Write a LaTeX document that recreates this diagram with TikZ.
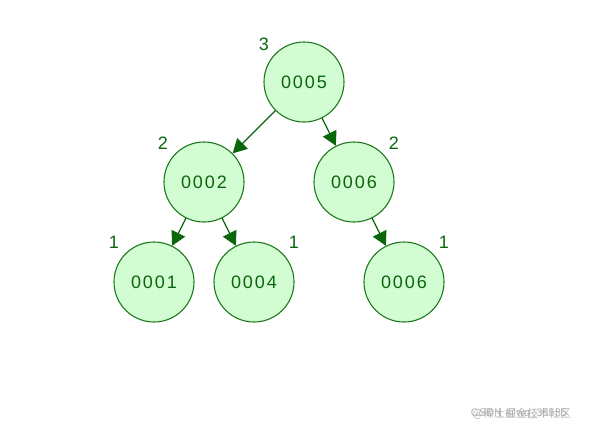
\documentclass[tikz,border=0pt]{standalone}
\usepackage{fontspec}
\setmainfont{Liberation Sans}
\newfontfamily\nodefont[LetterSpace=11]{Liberation Sans}
\newfontfamily\cjk{Noto Sans CJK SC}
\usetikzlibrary{arrows.meta}
\definecolor{nodefill}{HTML}{D2FCD2}
\definecolor{nodeline}{HTML}{1F7A1F}
\definecolor{arrowgreen}{HTML}{0A660A}

\begin{document}
\begin{tikzpicture}[
        x=1pt, y=-1pt,
        every node/.style={font=\fontsize{18}{21}\selectfont},
        tnode/.style={draw=nodeline, fill=nodefill, circle, line width=1.1pt, minimum size=80pt, inner sep=0pt, text=arrowgreen, font=\nodefont\fontsize{18}{21}\selectfont},
        height/.style={text=arrowgreen, inner sep=0pt},
        edge/.style={draw=arrowgreen, line width=1.3pt, -{Triangle[length=14pt,width=15pt]}}
    ]
    \useasboundingbox (0,0) rectangle (592,432);

    \node[tnode] (n5) at (304,82) {0005};
    \node[tnode] (n2) at (204,182) {0002};
    \node[tnode] (n6) at (354,182) {0006};
    \node[tnode] (n1) at (154,282) {0001};
    \node[tnode] (n4) at (254,282) {0004};
    \node[tnode] (n6b) at (404,282) {0006};

    % heights
    \node[height] (h5) at (264,44) {3};
    \node[height] (h2) at (163,143) {2};
    \node[height] (h6) at (394,143) {2};
    \node[height] (h1) at (114,242) {1};
    \node[height] (h4) at (294,242) {1};
    \node[height] (h6b) at (444,242) {1};

    \draw[edge] (n5) -- (n2);
    \draw[edge] (n5) -- (n6);
    \draw[edge] (n2) -- (n1);
    \draw[edge] (n2) -- (n4);
    \draw[edge] (n6) -- (n6b);

    % watermark
    \node[text=black!30, font=\fontsize{11}{13}\selectfont] (mark) at (519,414) {CSDN @wq\_35535};
    \node[text=black!30, font=\cjk\fontsize{11}{13}\selectfont] (mark2) at (522,414) {@稀土掘金技术社区};
\end{tikzpicture}
\end{document}
